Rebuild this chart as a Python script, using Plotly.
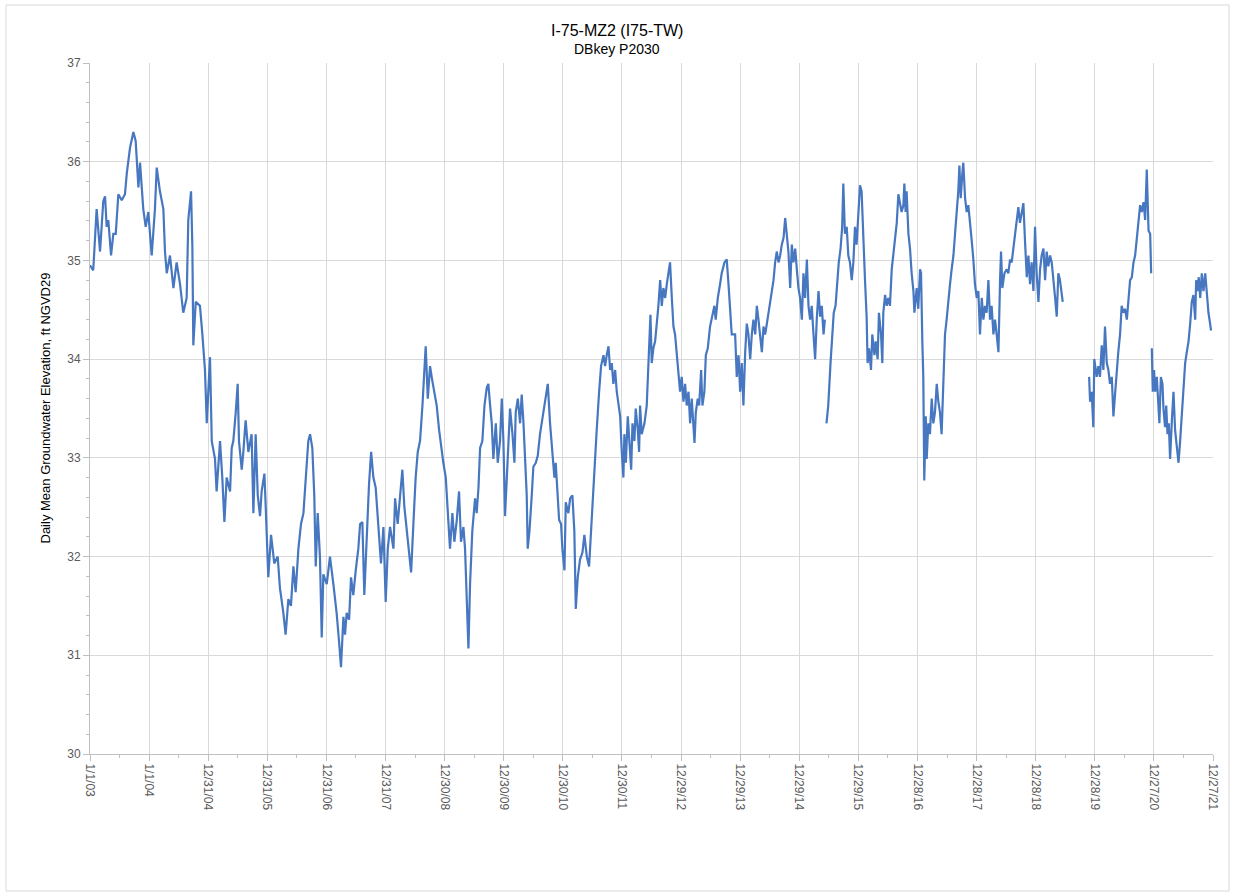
import plotly.graph_objects as go
import pandas as pd

# ---------------- data ----------------
dates = [
    "2003-01-01","2003-01-21","2003-02-11","2003-03-04","2003-03-24","2003-04-04","2003-04-14","2003-04-24",
    "2003-05-11","2003-05-25","2003-06-09","2003-06-25","2003-07-16","2003-08-05","2003-08-16","2003-09-05",
    "2003-09-26","2003-10-10","2003-10-27","2003-11-06","2003-11-26","2003-12-11","2003-12-27","2004-01-17",
    "2004-02-06","2004-02-17","2004-03-08","2004-03-29","2004-04-08","2004-04-19","2004-05-09","2004-05-30",
    "2004-06-19","2004-07-10","2004-07-30","2004-08-20","2004-08-30","2004-09-16","2004-09-24","2004-09-30",
    "2004-10-15","2004-11-10","2004-11-25","2004-12-11","2004-12-22","2005-01-11","2005-01-22",
    "2005-02-11","2005-02-21","2005-03-14","2005-03-28","2005-04-10","2005-04-24","2005-05-15","2005-05-25",
    "2005-06-04","2005-06-19","2005-07-01","2005-07-09","2005-07-26","2005-08-05","2005-08-19","2005-09-05",
    "2005-09-25","2005-10-06","2005-10-20","2005-11-02","2005-11-16","2005-11-26","2005-12-13","2005-12-21",
    "2006-01-06","2006-01-23","2006-02-12","2006-03-05","2006-03-19","2006-04-09","2006-04-23","2006-05-10",
    "2006-05-26","2006-06-10","2006-06-24","2006-07-11","2006-07-27","2006-08-11","2006-08-25","2006-09-10",
    "2006-09-21","2006-10-05","2006-10-17","2006-10-26","2006-11-07","2006-11-21","2006-12-02","2006-12-12",
    "2007-01-02","2007-01-22","2007-02-12","2007-03-04","2007-03-19","2007-03-31","2007-04-15",
    "2007-04-25","2007-05-05","2007-05-20","2007-06-01","2007-06-15","2007-06-30","2007-07-16","2007-07-27",
    "2007-08-10","2007-08-22","2007-09-06","2007-09-20","2007-10-03","2007-10-17","2007-10-31","2007-11-17",
    "2007-12-03","2007-12-18","2008-01-01","2008-01-14","2008-01-28","2008-02-18","2008-02-28","2008-03-15",
    "2008-03-30","2008-04-13","2008-04-25","2008-05-10","2008-05-20","2008-06-06","2008-06-20","2008-07-04",
    "2008-07-17","2008-07-31","2008-08-15","2008-08-27","2008-09-04","2008-09-17","2008-10-01","2008-10-15",
    "2008-10-28","2008-11-11","2008-11-26","2008-12-08","2008-12-22","2009-01-06","2009-01-18","2009-02-01",
    "2009-02-16","2009-02-28","2009-03-15","2009-03-29","2009-04-10","2009-04-25","2009-05-05","2009-05-15",
    "2009-05-26","2009-06-05","2009-06-19",
    "2009-07-06","2009-07-16","2009-07-27","2009-08-06","2009-08-20","2009-09-02","2009-09-16","2009-09-26",
    "2009-10-07","2009-10-17","2009-10-27","2009-11-11","2009-11-23","2009-12-07","2009-12-18","2009-12-28",
    "2010-01-07","2010-01-18","2010-01-28","2010-02-07","2010-02-22","2010-03-06","2010-03-14","2010-03-27",
    "2010-04-10","2010-04-20","2010-05-01","2010-05-11","2010-05-21","2010-05-27","2010-06-07","2010-06-21",
    "2010-07-01","2010-07-16","2010-07-28","2010-08-11","2010-09-28","2010-10-12","2010-10-27","2010-11-08",
    "2010-11-16","2010-11-29","2010-12-07","2010-12-19","2010-12-27","2011-01-09","2011-01-17","2011-02-02",
    "2011-02-13","2011-02-27","2011-03-11","2011-03-20","2011-04-01","2011-04-15","2011-04-30","2011-05-12",
    "2011-05-27","2011-06-10","2011-06-22","2011-07-07","2011-07-17","2011-07-27","2011-08-11","2011-08-23",
    "2011-09-07",
    "2011-09-17","2011-09-27","2011-10-08","2011-10-18","2011-10-28","2011-11-07","2011-11-18","2011-11-28",
    "2011-12-08","2011-12-19","2011-12-29","2012-01-08","2012-01-14","2012-01-23","2012-02-04","2012-02-12",
    "2012-02-25","2012-03-04","2012-03-16","2012-03-24","2012-04-06","2012-04-14","2012-04-20","2012-04-30",
    "2012-05-17","2012-05-31","2012-06-07","2012-06-15","2012-06-23","2012-07-01","2012-07-11","2012-07-22",
    "2012-08-01","2012-08-11","2012-08-22","2012-09-01","2012-09-11","2012-09-22","2012-10-02","2012-10-12",
    "2012-10-22","2012-11-02","2012-11-12","2012-11-22","2012-12-03","2012-12-13","2012-12-23","2013-01-02",
    "2013-01-13","2013-01-23","2013-02-02","2013-02-13","2013-02-23","2013-03-05","2013-03-16","2013-03-22",
    "2013-03-30","2013-04-11","2013-04-20","2013-05-02","2013-05-10","2013-05-22","2013-05-31","2013-06-12",
    "2013-06-26","2013-07-11","2013-07-23","2013-07-31","2013-08-13","2013-08-27","2013-09-06","2013-09-23",
    "2013-10-07","2013-10-18","2013-10-28","2013-11-07",
    "2013-11-28","2013-12-08","2013-12-19","2013-12-29","2014-01-08","2014-01-18","2014-01-29","2014-02-08",
    "2014-02-18","2014-03-01","2014-03-11","2014-03-21","2014-04-01","2014-04-11","2014-04-21","2014-05-01",
    "2014-05-12","2014-05-22","2014-06-01","2014-06-12","2014-06-22","2014-07-02","2014-07-12","2014-07-23",
    "2014-08-02","2014-08-12","2014-08-23","2014-09-02","2014-09-12","2014-09-23","2014-10-03","2014-10-13",
    "2014-10-23","2014-11-03","2014-11-13","2014-11-23","2014-12-04","2014-12-14","2014-12-24","2015-01-03",
    "2015-01-14","2015-01-24","2015-02-03","2015-02-14","2015-02-24","2015-03-06","2015-03-16","2015-03-27",
    "2015-04-06","2015-04-16","2015-04-27","2015-05-07","2015-05-17","2015-05-28","2015-06-05","2015-06-10",
    "2015-06-15","2015-06-26","2015-07-10","2015-07-20","2015-07-30","2015-08-10","2015-08-20","2015-08-30",
    "2015-09-10","2015-09-20","2015-09-27","2015-10-07","2015-10-18","2015-10-28","2015-11-07","2015-11-18",
    "2015-11-28","2015-12-08","2015-12-18","2015-12-29","2016-01-08","2016-01-18","2016-01-28","2016-02-08",
    "2016-02-18",
    "2016-02-24","2016-03-04","2016-03-16","2016-03-24","2016-04-06","2016-04-14","2016-04-26","2016-05-04",
    "2016-05-17","2016-05-25","2016-05-31","2016-06-11","2016-06-21","2016-07-01","2016-07-11","2016-07-22",
    "2016-08-01","2016-08-11","2016-08-22","2016-09-01","2016-09-11","2016-09-21","2016-10-02","2016-10-08",
    "2016-10-16","2016-10-22","2016-11-02","2016-11-12","2016-11-22","2016-12-03","2016-12-09","2016-12-17",
    "2016-12-23","2017-01-02","2017-01-13","2017-01-19","2017-01-23","2017-01-27","2017-02-02","2017-02-08",
    "2017-02-17","2017-02-23","2017-03-05","2017-03-15","2017-03-26","2017-04-05","2017-04-15","2017-04-26",
    "2017-05-06","2017-05-16","2017-05-26","2017-06-06","2017-06-16","2017-06-26","2017-07-07","2017-07-17",
    "2017-07-27","2017-08-07","2017-08-17","2017-08-27","2017-09-06","2017-09-13","2017-09-21","2017-10-01",
    "2017-10-07","2017-10-18","2017-10-28","2017-11-07","2017-11-17","2017-11-28","2017-12-08","2017-12-18",
    "2017-12-29","2018-01-08","2018-01-18","2018-01-29","2018-02-08","2018-02-18","2018-02-28","2018-03-11",
    "2018-03-21","2018-03-31","2018-04-11","2018-04-21",
    "2018-05-01","2018-05-12","2018-05-22","2018-05-28","2018-06-05","2018-06-18","2018-07-02","2018-07-12",
    "2018-07-23","2018-08-02","2018-08-12","2018-08-23","2018-09-02","2018-09-12","2018-09-22","2018-10-03",
    "2018-10-13","2018-10-23","2018-11-03","2018-11-13","2018-11-23","2018-12-03","2018-12-14","2018-12-24",
    "2019-01-03","2019-01-14","2019-01-24","2019-02-03","2019-02-14","2019-02-24","2019-03-06","2019-03-16",
    "2019-03-27","2019-04-06","2019-04-16","2019-04-27","2019-05-07","2019-05-17","2019-05-27","2019-06-07",
    "2019-06-13","2019-09-01",
    "2019-11-23","2019-11-29","2019-12-09","2019-12-19","2019-12-25","2020-01-09","2020-01-19","2020-01-29",
    "2020-02-09","2020-02-19","2020-02-29","2020-03-11","2020-03-21","2020-03-31","2020-04-11","2020-04-21",
    "2020-05-01","2020-05-11","2020-05-21","2020-06-01","2020-06-11",
    "2020-06-22","2020-07-02","2020-07-13","2020-07-23","2020-08-02","2020-08-13","2020-08-23","2020-09-02",
    "2020-09-12","2020-09-23","2020-10-03","2020-10-13","2020-10-24","2020-11-03","2020-11-13","2020-11-24",
    "2020-12-04","2020-12-10","2020-12-12",
    "2020-12-14","2020-12-20","2020-12-28","2021-01-04","2021-01-14","2021-01-24","2021-01-30","2021-02-08",
    "2021-02-18","2021-02-24","2021-03-06","2021-03-13","2021-03-21","2021-03-29","2021-04-06","2021-04-17",
    "2021-04-27","2021-05-07","2021-05-17","2021-05-28","2021-06-07","2021-06-17","2021-06-28","2021-07-08",
    "2021-07-18","2021-07-29","2021-08-08","2021-08-18","2021-08-28","2021-09-08","2021-09-14","2021-09-22",
    "2021-09-30","2021-10-09","2021-10-19","2021-10-29","2021-11-09","2021-11-19","2021-11-29","2021-12-09",
    "2021-12-15",
]

levels = [
    34.95,34.90,35.52,35.09,35.60,35.65,35.34,35.41,
    35.05,35.27,35.27,35.67,35.61,35.67,35.88,36.14,
    36.30,36.21,35.74,35.99,35.52,35.34,35.49,35.05,
    35.52,35.94,35.70,35.52,35.09,34.87,35.05,34.72,
    34.98,34.76,34.47,34.62,35.41,35.70,35.16,34.14,
    34.58,34.54,34.25,33.89,33.35,34.02,33.17,
    32.99,32.66,33.17,32.80,32.35,32.80,32.66,33.10,
    33.17,33.46,33.75,33.17,32.88,33.06,33.38,33.06,
    33.24,32.44,33.24,32.62,32.41,32.66,32.84,32.51,
    31.79,32.22,31.93,32.00,31.68,31.43,31.21,31.57,
    31.50,31.90,31.64,32.08,32.33,32.44,32.80,33.17,
    33.24,33.10,32.62,31.90,32.44,32.00,31.18,31.82,
    31.72,32.00,31.72,31.43,31.14,30.88,31.39,
    31.21,31.43,31.36,31.79,31.61,31.86,32.08,32.33,
    32.35,31.61,32.26,32.73,33.06,32.80,32.70,32.26,
    31.93,32.30,31.54,32.08,32.30,32.08,32.59,32.33,
    32.66,32.88,32.51,32.26,32.08,31.84,32.33,32.80,
    33.06,33.17,33.53,33.93,34.13,33.60,33.93,33.78,
    33.67,33.53,33.28,33.10,32.95,32.80,32.51,32.08,
    32.44,32.15,32.37,32.66,32.15,32.30,32.08,31.54,
    31.07,31.72,32.26,
    32.59,32.44,32.70,33.10,33.17,33.53,33.71,33.75,
    33.53,33.35,32.99,33.35,32.95,33.17,33.60,33.17,
    32.41,32.80,33.17,33.50,33.24,32.95,33.46,33.60,
    33.35,33.64,33.35,33.02,32.62,32.08,32.26,32.62,
    32.91,32.95,33.02,33.24,33.75,33.35,33.02,32.80,
    32.95,32.62,32.37,32.33,32.08,31.86,32.55,32.44,
    32.59,32.62,32.26,31.47,31.79,31.97,32.04,32.22,
    32.00,31.90,32.26,32.80,33.02,33.28,33.67,33.93,
    34.04,
    33.93,34.04,34.13,33.89,33.96,33.75,33.89,33.67,
    33.53,33.42,33.06,32.80,33.24,32.95,33.42,33.17,
    32.88,33.35,33.17,33.50,33.28,33.06,33.53,33.24,
    33.35,33.53,33.82,34.04,34.45,33.96,34.11,34.18,
    34.33,34.54,34.80,34.54,34.72,34.62,34.76,34.87,
    34.98,34.62,34.33,34.25,34.07,33.89,33.67,33.82,
    33.57,33.75,33.53,33.67,33.35,33.60,33.28,33.15,
    33.46,33.60,33.53,33.89,33.53,33.67,34.04,34.11,
    34.33,34.47,34.54,34.40,34.62,34.76,34.87,34.98,
    35.01,34.76,34.54,34.25,
    34.25,33.82,34.04,33.67,33.96,33.53,34.07,34.36,
    34.25,34.00,34.25,34.40,34.25,34.54,34.40,34.25,
    34.07,34.33,34.25,34.36,34.47,34.62,34.72,34.80,
    34.98,35.09,34.98,35.05,35.16,35.23,35.43,35.23,
    35.09,34.72,35.16,34.98,35.12,34.91,34.72,34.62,
    34.40,34.87,34.62,35.01,34.54,34.40,34.54,34.25,
    34.00,34.40,34.69,34.43,34.54,34.25,34.40,None,
    33.35,33.53,33.96,34.25,34.47,34.54,34.76,34.98,
    35.12,35.34,35.78,35.27,35.34,35.05,34.98,34.80,
    34.98,35.34,35.16,35.49,35.76,35.70,35.16,34.80,
    34.43,
    33.96,34.11,33.89,34.25,34.04,34.18,34.00,34.47,
    34.25,33.96,34.47,34.65,34.54,34.62,34.54,34.91,
    35.05,35.20,35.38,35.67,35.56,35.49,35.56,35.78,
    35.49,35.70,35.27,35.12,34.87,34.69,34.47,34.62,
    34.72,34.51,34.91,34.87,34.40,34.18,33.82,32.77,
    33.42,32.99,33.35,33.24,33.60,33.35,33.46,33.75,
    33.57,33.46,33.24,33.89,34.25,34.40,34.62,34.76,
    34.91,35.05,35.27,35.45,35.70,35.96,35.63,35.88,
    35.99,35.63,35.49,35.56,35.41,35.20,35.01,34.76,
    34.62,34.69,34.25,34.62,34.40,34.54,34.47,34.80,
    34.40,34.54,34.25,34.40,
    34.25,34.07,34.80,35.09,34.72,34.87,34.91,34.87,
    35.01,34.98,35.12,35.27,35.41,35.54,35.38,35.49,
    35.58,35.20,34.83,35.05,34.76,34.98,34.69,35.34,
    34.87,34.58,34.91,35.05,35.12,34.80,35.09,34.94,
    35.05,34.98,34.83,34.62,34.43,34.87,34.80,34.62,
    34.58,None,
    33.82,33.57,33.67,33.31,34.00,33.82,33.93,33.82,
    34.14,33.89,34.33,33.96,33.89,33.75,33.82,33.42,
    33.64,33.89,34.07,34.25,34.54,
    34.47,34.51,34.40,34.62,34.80,34.83,34.98,35.05,
    35.23,35.41,35.56,35.49,35.59,35.41,35.92,35.30,
    35.27,34.87,None,
    34.11,33.67,33.89,33.67,33.82,33.53,33.35,33.82,
    33.75,33.50,33.31,33.53,33.24,33.35,32.99,33.38,
    33.67,33.28,33.10,32.95,33.17,33.46,33.67,33.96,
    34.07,34.18,34.36,34.58,34.65,34.40,34.80,34.69,
    34.83,34.62,34.87,34.69,34.87,34.62,34.47,34.36,
    34.29,
]

tick_dates = [
    "2003-01-01","2004-01-01","2004-12-31","2005-12-31","2006-12-31","2007-12-31","2008-12-30",
    "2009-12-30","2010-12-30","2011-12-30","2012-12-29","2013-12-29","2014-12-29","2015-12-29",
    "2016-12-28","2017-12-28","2018-12-28","2019-12-28","2020-12-27","2021-12-27",
]
tick_labels = [
    "1/1/03","1/1/04","12/31/04","12/31/05","12/31/06","12/31/07","12/30/08",
    "12/30/09","12/30/10","12/30/11","12/29/12","12/29/13","12/29/14","12/29/15",
    "12/28/16","12/28/17","12/28/18","12/28/19","12/27/20","12/27/21",
]

title_text = "I-75-MZ2 (I75-TW)"
subtitle_text = "DBkey P2030"
y_title = "Daily Mean Groundwater Elevation, ft NGVD29"

# ---------------- figure ----------------
td = pd.to_datetime(tick_dates)
minor_vals = [td[i] + (td[i + 1] - td[i]) / 2 for i in range(len(td) - 1)]

grid_col = "#D9D9D9"
tick_font = dict(family="Liberation Sans, Arial, sans-serif", size=12, color="#595959")

fig = go.Figure()
fig.add_trace(go.Scatter(
    x=pd.to_datetime(dates), y=levels, mode="lines",
    line=dict(color="#4677C0", width=2.2),
    connectgaps=False, showlegend=False,
))

fig.update_layout(
    width=1233, height=893, autosize=False,
    margin=dict(l=90, r=20, t=63, b=139),
    paper_bgcolor="white", plot_bgcolor="white",
    font=dict(family="Liberation Sans, Arial, sans-serif", color="#262626"),
    showlegend=False,
)

fig.update_xaxes(
    type="date",
    range=[td[0], td[-1]],
    tickmode="array", tickvals=td, ticktext=tick_labels,
    tickangle=90, tickfont=tick_font,
    showgrid=True, gridcolor=grid_col, gridwidth=1,
    showline=True, linecolor="#BFBFBF", linewidth=1,
    ticks="outside", ticklen=6, tickcolor="#BFBFBF",
    minor=dict(tickmode="array", tickvals=minor_vals, ticks="outside", ticklen=3,
               tickcolor="#BFBFBF", showgrid=False),
    zeroline=False,
)
fig.update_yaxes(
    range=[30, 37], tick0=30, dtick=1, tickfont=tick_font,
    showgrid=True, gridcolor=grid_col, gridwidth=1,
    showline=True, linecolor="#BFBFBF", linewidth=1,
    ticks="outside", ticklen=6, tickcolor="#BFBFBF",
    minor=dict(dtick=0.2, ticks="outside", ticklen=3, tickcolor="#BFBFBF", showgrid=False),
    zeroline=False,
)

# titles
fig.add_annotation(text=title_text, xref="paper", yref="paper",
                   x=(617 - 90) / 1123, y=(754 - 31) / 691, showarrow=False,
                   xanchor="center", yanchor="middle",
                   font=dict(size=16, color="#000000", family="Liberation Sans, Arial, sans-serif"))
fig.add_annotation(text=subtitle_text, xref="paper", yref="paper",
                   x=(617 - 90) / 1123, y=(754 - 49) / 691, showarrow=False,
                   xanchor="center", yanchor="middle",
                   font=dict(size=14, color="#000000", family="Liberation Sans, Arial, sans-serif"))
fig.add_annotation(text=y_title, xref="paper", yref="paper",
                   x=(45 - 90) / 1123, y=0.5, showarrow=False, textangle=-90,
                   xanchor="center", yanchor="middle",
                   font=dict(size=13, color="#000000", family="Liberation Sans, Arial, sans-serif"))

# outer chart border
fig.add_shape(type="rect", xref="paper", yref="paper",
              x0=(6 - 90) / 1123, x1=(1229 - 90) / 1123,
              y0=(754 - 891) / 691, y1=(754 - 5) / 691,
              line=dict(color="#D9D9D9", width=1), fillcolor="rgba(0,0,0,0)", layer="below")

fig.write_html("out.html", config={"displayModeBar": False},
               post_script="document.body.style.margin='0';")
